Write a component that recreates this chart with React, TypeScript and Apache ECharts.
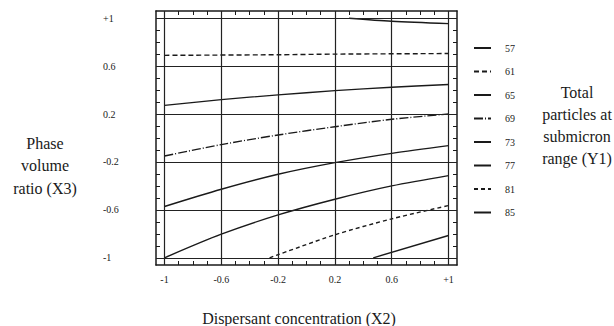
import React, { useEffect, useRef } from "react";
import * as echarts from "echarts";

const contourNames = ["57", "61", "65", "69", "73", "77", "81", "85"];
const c57 = [[0.3, 1.0], [0.6, 0.975], [1.0, 0.955]];
const c61 = [[-1, 0.69], [-0.2, 0.695], [0.2, 0.7], [1, 0.705]];
const c65 = [[-1, 0.272], [-0.6, 0.32], [-0.2, 0.36], [0.2, 0.395], [0.6, 0.423], [1, 0.447]];
const c69 = [[-1, -0.15], [-0.6, -0.055], [-0.2, 0.025], [0.2, 0.094], [0.6, 0.156], [1, 0.2]];
const c73 = [[-1, -0.572], [-0.6, -0.428], [-0.2, -0.303], [0.2, -0.206], [0.6, -0.128], [1, -0.064]];
const c77 = [[-1, -1], [-0.6, -0.803], [-0.2, -0.642], [0.2, -0.511], [0.6, -0.4], [1, -0.314]];
const c81 = [[-0.26, -1], [0.2, -0.808], [0.6, -0.675], [1, -0.564]];
const c85 = [[0.47, -1], [1, -0.814]];
const contours = [c57, c61, c65, c69, c73, c77, c81, c85];
const lineTypes: any[] = ["solid", [5, 3], "solid", [9, 2, 1, 2], "solid", "solid", [4, 3], "solid"];

const majorTicks = [-1, -0.6, -0.2, 0.2, 0.6, 1];
const minorTicks = [-1, -0.9, -0.8, -0.7, -0.6, -0.5, -0.4, -0.3, -0.2, -0.1, 0, 0.1, 0.2, 0.3, 0.4, 0.5, 0.6, 0.7, 0.8, 0.9, 1];

const FONT = "Times New Roman, Liberation Serif, serif";
const INK = "#1a1a1a";

const fmt = (v: number) => (Math.abs(v - 1) < 1e-9 ? "+1" : String(Math.round(v * 10) / 10));

function axis(position: string, showLabel: boolean, isY: boolean): any {
  return {
    type: "value",
    position,
    min: -1.06,
    max: 1.06,
    axisLine: { show: true, onZero: false, lineStyle: { color: INK, width: 1.5 } },
    axisTick: { show: true, inside: true, length: 4, customValues: minorTicks, lineStyle: { color: INK, width: 1 } },
    axisLabel: {
      show: showLabel,
      customValues: majorTicks,
      formatter: fmt,
      fontFamily: FONT,
      fontSize: 10,
      color: INK,
      margin: isY ? 53 : 9,
      align: isY ? "left" : "center",
    },
    splitLine: { show: false },
  };
}

export default function App() {
  const ref = useRef<HTMLDivElement>(null);
  useEffect(() => {
    const chart = echarts.init(ref.current!, null, { renderer: "svg" });
    const series: any[] = contours.map((c, i) => ({
      name: contourNames[i],
      type: "line",
      data: c,
      smooth: 0.3,
      symbol: "none",
      xAxisIndex: 0,
      yAxisIndex: 0,
      lineStyle: { color: INK, width: 1.4, type: lineTypes[i] },
      itemStyle: { color: INK },
    }));
    series.push({
      name: "grid",
      type: "line",
      data: [],
      xAxisIndex: 0,
      yAxisIndex: 0,
      silent: true,
      markLine: {
        silent: true,
        symbol: "none",
        label: { show: false },
        lineStyle: { color: "#222", width: 1.2, type: "solid" },
        data: [
          ...majorTicks.map((v) => ({ xAxis: v })),
          ...majorTicks.map((v) => ({ yAxis: v })),
        ],
      },
    });
    const titleStyle = (text: string, lh: number, va: string) => ({
      text,
      fontFamily: FONT,
      fontSize: 16,
      fill: INK,
      textAlign: "center",
      textVerticalAlign: va,
      lineHeight: lh,
    });
    chart.setOption({
      animation: false,
      textStyle: { fontFamily: FONT },
      grid: { left: 156, top: 11, width: 301, height: 254 },
      xAxis: [axis("bottom", true, false), axis("top", false, false)],
      yAxis: [axis("left", true, true), axis("right", false, true)],
      legend: {
        data: contourNames,
        orient: "vertical",
        left: 468,
        top: 38,
        itemWidth: 17,
        itemHeight: 10,
        itemGap: 13.5,
        itemStyle: { opacity: 0 },
        textStyle: { fontFamily: FONT, fontSize: 10, color: INK, padding: [0, 0, 0, 9] },
        selectedMode: false,
      },
      graphic: [
        { type: "text", x: 45, y: 132, style: titleStyle("Phase\nvolume\nratio (X3)", 22.5, "top") },
        { type: "text", x: 577, y: 81, style: titleStyle("Total\nparticles at\nsubmicron\nrange (Y1)", 22, "top") },
        { type: "text", x: 299, y: 318, style: titleStyle("Dispersant concentration (X2)", 18, "middle") },
      ],
      series,
    });
    return () => chart.dispose();
  }, []);
  return <div ref={ref} style={{ width: 614, height: 326, position: "absolute", left: 0, top: 0 }} />;
}
